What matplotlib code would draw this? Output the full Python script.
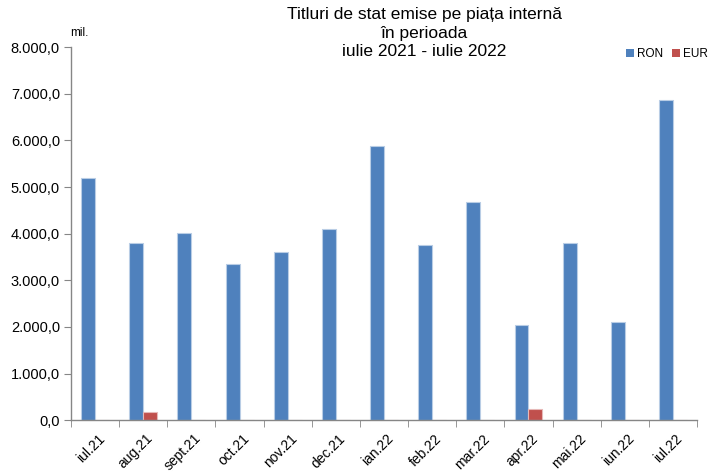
import matplotlib
matplotlib.use("Agg")
import matplotlib.pyplot as plt
import numpy as np
from matplotlib.ticker import FixedLocator, FuncFormatter

plt.rcParams['font.family'] = ['Liberation Sans', 'DejaVu Sans']

months = ["iul.21", "aug.21", "sept.21", "oct.21", "nov.21", "dec.21", "ian.22",
          "feb.22", "mar.22", "apr.22", "mai.22", "iun.22", "iul.22"]
ron = [5190, 3800, 4010, 3350, 3610, 4110, 5875, 3760, 4675, 2045, 3800, 2110, 6875]
eur = [0, 170, 0, 0, 0, 0, 0, 0, 0, 240, 0, 0, 0]
yticks = [0, 1000, 2000, 3000, 4000, 5000, 6000, 7000, 8000]

fig = plt.figure(figsize=(7.08, 4.72), dpi=100)
ax = fig.add_axes([0.1003, 0.1095, 0.8842, 0.7909])

x = np.arange(len(months))
w = 0.29
ax.bar(x - w/2, ron, w, color='#4F81BD', edgecolor='#B9CDE5', linewidth=0.8, label='RON')
ax.bar(x + w/2, eur, w, color='#C0504D', edgecolor='#E6B9B8', linewidth=0.8, label='EUR')

ax.set_xlim(-0.5, len(months) - 0.5)
ax.set_ylim(0, 8000)
ax.set_yticks(yticks)
ax.yaxis.set_major_formatter(FuncFormatter(lambda v, p: f"{int(v):,}".replace(",", ".") + ",0"))
ax.set_xticks(x + 0.05)
ax.set_xticklabels(months, rotation=45, ha='right', va='top', rotation_mode='anchor', fontsize=10)
ax.xaxis.set_minor_locator(FixedLocator(np.arange(-0.5, len(months), 1.0)))
ax.tick_params(axis='x', which='major', length=0, pad=8)
ax.tick_params(axis='x', which='minor', length=5, color='#868686', direction='out')
ax.tick_params(axis='y', length=5, color='#868686', labelsize=10.5, pad=3)

for s in ['top', 'right']:
    ax.spines[s].set_visible(False)
for s in ['left', 'bottom']:
    ax.spines[s].set_color('#868686')
    ax.spines[s].set_linewidth(1.0)

fig.text(0.099, 0.93, "mil.", fontsize=8.5, ha='left', va='center')
fig.text(0.599, 0.985, "Titluri de stat emise pe piața internă\nîn perioada\niulie 2021 - iulie 2022",
         fontsize=12.5, ha='center', va='top', linespacing=1.3)

leg = fig.legend(loc='center left', bbox_to_anchor=(0.884, 0.885), ncol=2, frameon=False,
                 fontsize=8.5, handlelength=0.7, handleheight=0.7, handletextpad=0.25,
                 columnspacing=0.75, borderaxespad=0, borderpad=0)
for h in leg.legend_handles:
    h.set_edgecolor('none')

fig.savefig("out.png", dpi=100)
